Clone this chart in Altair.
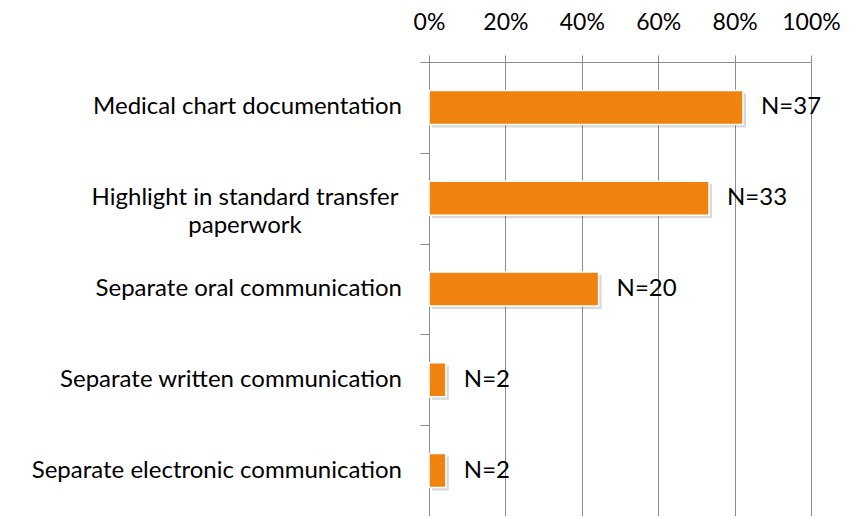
import altair as alt
import pandas as pd

categories = [
    "Medical chart documentation",
    "Highlight in standard transfer paperwork",
    "Separate oral communication",
    "Separate written communication",
    "Separate electronic communication",
]
single_labels = [
    "Medical chart documentation",
    "",
    "Separate oral communication",
    "Separate written communication",
    "Separate electronic communication",
]
shares = [0.822, 0.733, 0.444, 0.044, 0.044]
counts = ["N=37", "N=33", "N=20", "N=2", "N=2"]
tick_values = [0, 0.2, 0.4, 0.6, 0.8, 1.0]

df = pd.DataFrame({"cat": categories, "share": shares, "n": counts, "lab": single_labels})
multi = pd.DataFrame({"cat": [categories[1]], "lab": [["Highlight in standard transfer", "paperwork"]]})

FONT = "Lato"
FS = 24
GRAY = "#8c8c8c"

W, H = 382, 454

y_enc = alt.Y(
    "cat:N",
    sort=categories,
    scale=alt.Scale(paddingInner=0, paddingOuter=0),
    axis=alt.Axis(
        title=None, labels=False, ticks=True, tickBand="extent", tickSize=9,
        tickColor=GRAY, domainColor=GRAY, grid=False, tickWidth=1, domainWidth=1,
    ),
)
x_enc = alt.X(
    "share:Q",
    scale=alt.Scale(domain=[0, 1], nice=False),
    axis=alt.Axis(
        orient="top", values=tick_values, format=".0%", title=None,
        labelFont=FONT, labelFontSize=23, labelColor="#000000",
        labelOverlap=False, labelBound=False, labelFlush=False,
        labelPadding=21, tickSize=7, tickColor=GRAY, domainColor=GRAY,
        gridColor=GRAY, gridWidth=1, tickWidth=1, domainWidth=1,
    ),
)

base = alt.Chart(df)

shadow = base.mark_bar(size=34, color="#000000", opacity=0.15, xOffset=3, yOffset=3).encode(
    x=x_enc, y=y_enc
)
bars = base.mark_bar(size=34, color="#F0820F", stroke="#ffffff", strokeWidth=1.5).encode(
    x=x_enc, y=y_enc
)
nlab = base.mark_text(align="left", baseline="middle", dx=18, font=FONT, fontSize=FS, color="#000000").encode(
    x="share:Q", y=alt.Y("cat:N", sort=categories), text="n:N"
)
ylab = base.mark_text(align="right", baseline="middle", font=FONT, fontSize=FS, color="#000000").encode(
    x=alt.value(-27), y=alt.Y("cat:N", sort=categories), text="lab:N"
)
ylab2 = alt.Chart(multi).mark_text(
    align="center", baseline="middle", font=FONT, fontSize=FS, color="#000000", lineHeight=28
).encode(x=alt.value(-184), y=alt.Y("cat:N", sort=categories), text="lab")

chart = alt.layer(shadow, bars, nlab, ylab, ylab2).properties(
    width=W, height=H,
    autosize=alt.AutoSizeParams(type="none"),
    padding={"left": 421, "top": 54, "right": 43, "bottom": 0},
).configure_view(stroke=None)

chart.save("out.html", embed_options={"renderer": "svg", "actions": False})
